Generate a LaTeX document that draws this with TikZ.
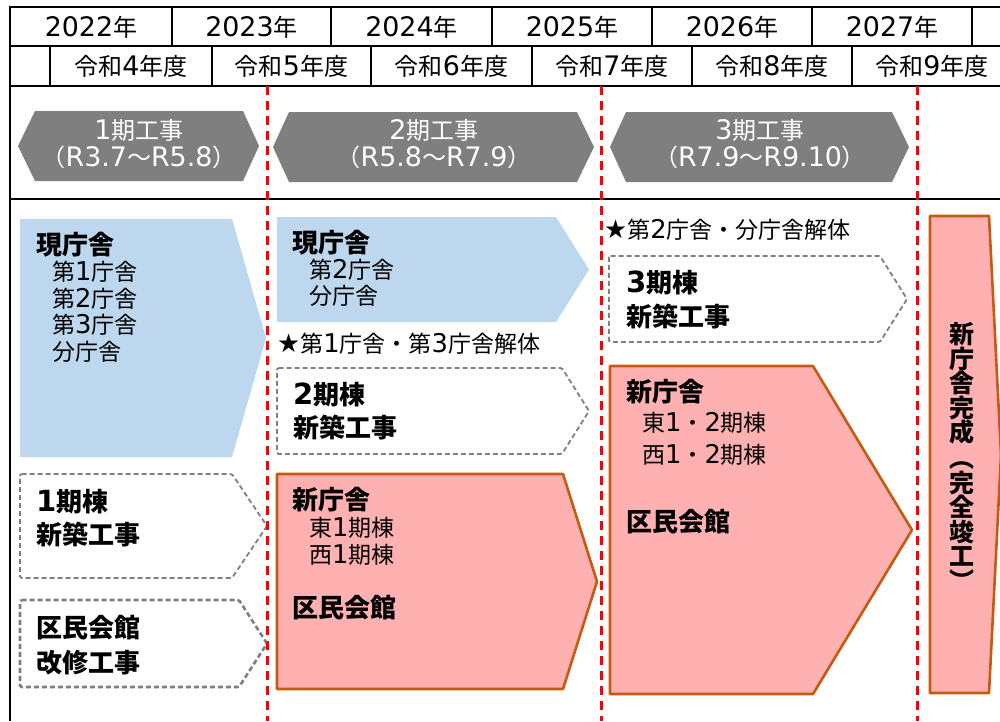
\documentclass[tikz,border=0pt]{standalone}
\usepackage{graphicx}
\usepackage{fontspec}
\setmainfont{DejaVu Sans}[Scale=1.12]
\newfontfamily\cjkf{Noto Sans CJK JP}
\newfontfamily\latf{DejaVu Sans}[Scale=1.12]
\XeTeXinterchartokenstate=1
\newXeTeXintercharclass\CJKcls
\makeatletter
\def\setcjkrange#1#2{\count@=#1\relax\loop\XeTeXcharclass\count@=\CJKcls\relax\ifnum\count@<#2\relax\advance\count@ by 1\relax\repeat}
\setcjkrange{"3000}{"9FFF}
\setcjkrange{"FE10}{"FE4F}
\setcjkrange{"FF00}{"FFEF}
\makeatother
\XeTeXinterchartoks 0 \CJKcls = {\cjkf}
\XeTeXinterchartoks 4095 \CJKcls = {\cjkf}
\XeTeXinterchartoks \CJKcls 0 = {\latf}
\XeTeXinterchartoks 4095 0 = {\latf}
\definecolor{arrowgray}{HTML}{7F7F7F}
\definecolor{lightblue}{HTML}{BDD7EE}
\definecolor{dashgray}{HTML}{808080}
\definecolor{pinkfill}{HTML}{FFB0B0}
\definecolor{pinkedge}{HTML}{C55A11}
\newcommand{\vparen}[1]{\rotatebox[origin=c]{-90}{#1}}
\tikzset{
  tbl/.style={line width=2pt, draw=black},
  reddash/.style={draw=red, line width=3pt, dash pattern=on 9pt off 6pt},
  grayarrow/.style={fill=arrowgray},
  bluebox/.style={fill=lightblue},
  dashbox/.style={draw=dashgray, line width=1.8pt, dash pattern=on 5pt off 3pt, fill=white, rounded corners=1.5pt},
  dashboxthick/.style={draw=arrowgray, line width=2.6pt, dash pattern=on 5pt off 3pt, fill=white, rounded corners=1.5pt},
  pinkbox/.style={draw=pinkedge, fill=pinkfill, line width=2.6pt, line join=round},
  yr/.style={inner sep=0pt, font=\fontsize{24}{24}\selectfont},
  graytxt/.style={inner sep=0pt, text=white, align=center, font=\fontsize{24}{27}\selectfont},
  txt/.style={inner sep=0pt, anchor=west},
  head/.style={txt, font=\bfseries\fontsize{26}{26}\selectfont},
  sub/.style={txt, font=\fontsize{23}{23}\selectfont},
  star/.style={txt, font=\fontsize{23}{23}\selectfont},
}
\begin{document}
\begin{tikzpicture}[x=1pt,y=-1pt]
\useasboundingbox (0,0) rectangle (1000,721);
\clip (0,0) rectangle (1000,721);
% header table
\draw[tbl] (1000,7) -- (10,7) -- (10,721);
\draw[tbl] (10,46) -- (1000,46);
\draw[tbl] (10,86) -- (1000,86);
\draw[tbl] (10,199) -- (1000,199);
\foreach \x in {172,331,492,652,812,972} \draw[tbl] (\x,7) -- (\x,46);
\foreach \x in {50,212,371,532,692,852} \draw[tbl] (\x,46) -- (\x,86);
\node[yr] (y22) at (91,27) {2022年};
\node[yr] (y23) at (251.5,27) {2023年};
\node[yr] (y24) at (411.5,27) {2024年};
\node[yr] (y25) at (572,27) {2025年};
\node[yr] (y26) at (732,27) {2026年};
\node[yr] (y27) at (892,27) {2027年};
\node[yr] (r4) at (131,66) {令和4年度};
\node[yr] (r5) at (291.5,66) {令和5年度};
\node[yr] (r6) at (451.5,66) {令和6年度};
\node[yr] (r7) at (612,66) {令和7年度};
\node[yr] (r8) at (772,66) {令和8年度};
\node[yr] (r9) at (932,66) {令和9年度};
% gray phase arrows
\fill[grayarrow] (18,146) -- (35,111) -- (243,111) -- (259,146) -- (243,181) -- (35,181) -- cycle;
\fill[grayarrow] (273,147) -- (289,112) -- (577,112) -- (594,147) -- (577,182) -- (289,182) -- cycle;
\fill[grayarrow] (610,147) -- (626,112) -- (892,112) -- (909,147) -- (892,182) -- (626,182) -- cycle;
\node[graytxt] (p1) at (139,144) {1期工事\\（R3.7～R5.8）};
\node[graytxt] (p2) at (434,144) {2期工事\\（R5.8～R7.9）};
\node[graytxt] (p3) at (760,144) {3期工事\\（R7.9～R9.10）};
% blue current buildings
\fill[bluebox] (20,219) -- (232,219) -- (266,338) -- (232,457) -- (20,457) -- cycle;
\fill[bluebox] (277,217) -- (556,217) -- (589,269.5) -- (556,322) -- (277,322) -- cycle;
% dashed boxes
\draw[dashbox] (20,474) -- (232,474) -- (267,526) -- (232,578) -- (20,578) -- cycle;
\draw[dashboxthick] (20,600) -- (239,600) -- (267,643.5) -- (239,687) -- (20,687) -- cycle;
\draw[dashbox] (277,368) -- (562,368) -- (589,411) -- (562,454) -- (277,454) -- cycle;
\draw[dashbox] (609,256) -- (880,256) -- (907,299) -- (880,342) -- (609,342) -- cycle;
% pink new buildings
\draw[pinkbox] (277,474) -- (563,474) -- (597,581.5) -- (563,689) -- (277,689) -- cycle;
\draw[pinkbox] (610,366) -- (813,366) -- (912,530) -- (813,694) -- (610,694) -- cycle;
\draw[pinkbox] (930,216) -- (989,216) -- (1001,455) -- (989,693) -- (930,693) -- cycle;
% texts
\node[head] (b1h) at (36,245) {現庁舎};
\node[sub] (b1a) at (52,272) {第1庁舎};
\node[sub] (b1b) at (52,298.5) {第2庁舎};
\node[sub] (b1c) at (52,325) {第3庁舎};
\node[sub] (b1d) at (52,352) {分庁舎};
\node[head] (b2h) at (292,243) {現庁舎};
\node[sub] (b2a) at (309,270) {第2庁舎};
\node[sub] (b2b) at (309,296) {分庁舎};
\node[star] (s1) at (277,344) {★第1庁舎・第3庁舎解体};
\node[star] (s2) at (604,230) {★第2庁舎・分庁舎解体};
\node[head] (d1a) at (36,502) {1期棟};
\node[head] (d1b) at (36,535) {新築工事};
\node[head] (d2a) at (36,628) {区民会館};
\node[head] (d2b) at (36,663) {改修工事};
\node[head] (d3a) at (293,395) {2期棟};
\node[head] (d3b) at (293,428) {新築工事};
\node[head] (d4a) at (626,283) {3期棟};
\node[head] (d4b) at (626,317) {新築工事};
\node[head] (n1h) at (292,500) {新庁舎};
\node[sub] (n1a) at (309,528) {東1期棟};
\node[sub] (n1b) at (309,555) {西1期棟};
\node[head] (n1k) at (292,608) {区民会館};
\node[head] (n2h) at (626,392) {新庁舎};
\node[sub] (n2a) at (642,423) {東1・2期棟};
\node[sub] (n2b) at (642,455) {西1・2期棟};
\node[head] (n2k) at (626,522) {区民会館};
\node[inner sep=0pt, align=center, font=\bfseries\fontsize{25}{24.5}\selectfont] (fin) at (962,458)
  {新\\庁\\舎\\完\\成\\\vparen{（}\\完\\全\\竣\\工\\\vparen{）}};
% red dashed year-phase separators
\draw[reddash] (267,86) -- (267,721);
\draw[reddash] (601,86) -- (601,721);
\draw[reddash] (917,86) -- (917,721);
\end{tikzpicture}
\end{document}
